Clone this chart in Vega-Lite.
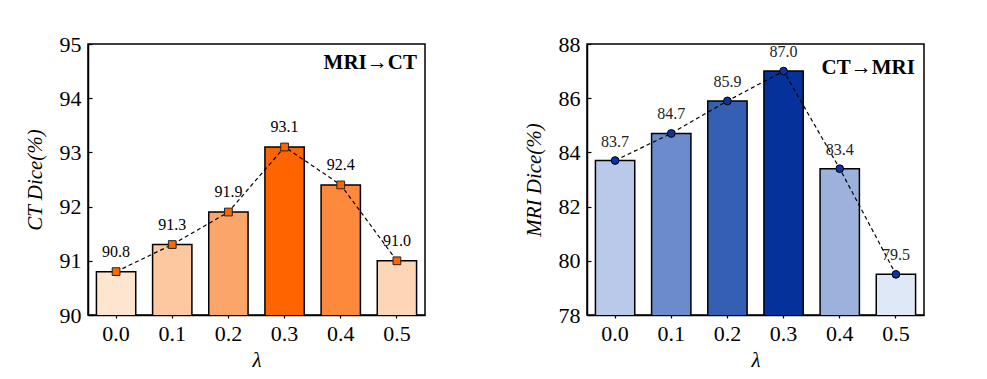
{
  "$schema": "https://vega.github.io/schema/vega-lite/v6.json",
  "background": "white",
  "padding": {"left": 23, "top": 32, "right": 5, "bottom": 5},
  "spacing": 96,
  "resolve": {"scale": {"color": "independent"}},
  "datasets": {
    "ct": [
      {"lambda": "0.0", "dice": 90.8},
      {"lambda": "0.1", "dice": 91.3},
      {"lambda": "0.2", "dice": 91.9},
      {"lambda": "0.3", "dice": 93.1},
      {"lambda": "0.4", "dice": 92.4},
      {"lambda": "0.5", "dice": 91.0}
    ],
    "mri": [
      {"lambda": "0.0", "dice": 83.7},
      {"lambda": "0.1", "dice": 84.7},
      {"lambda": "0.2", "dice": 85.9},
      {"lambda": "0.3", "dice": 87.0},
      {"lambda": "0.4", "dice": 83.4},
      {"lambda": "0.5", "dice": 79.5}
    ],
    "ctTag": [{"lambda": "0.5", "dice": 94.54, "tag": "MRI→CT"}],
    "mriTag": [{"lambda": "0.5", "dice": 86.89, "tag": "CT→MRI"}]
  },
  "config": {
    "view": {"stroke": "black", "strokeWidth": 1.5},
    "axis": {
      "labelFont": "Liberation Serif",
      "labelFontSize": 22,
      "labelColor": "black",
      "domainColor": "black",
      "domainWidth": 1.5,
      "tickColor": "black",
      "tickWidth": 1.2,
      "grid": false,
      "titleFont": "Liberation Serif",
      "titleFontStyle": "italic",
      "titleFontWeight": "normal",
      "titleFontSize": 21,
      "titleColor": "black"
    },
    "axisY": {"tickSize": -4, "labelPadding": 11, "titlePadding": 14},
    "axisX": {"tickSize": 3, "labelPadding": 5, "labelAngle": 0, "titlePadding": 5}
  },
  "hconcat": [
    {
      "width": 337,
      "height": 271,
      "data": {"name": "ct"},
      "encoding": {
        "x": {
          "field": "lambda",
          "type": "nominal",
          "sort": null,
          "scale": {"paddingInner": 0.3, "paddingOuter": 0.15},
          "axis": {"title": "λ"}
        },
        "y": {
          "field": "dice",
          "type": "quantitative",
          "scale": {"domain": [90, 95], "zero": false, "nice": false},
          "axis": {"title": "CT Dice(%)", "values": [90, 91, 92, 93, 94, 95]}
        }
      },
      "layer": [
        {
          "mark": {"type": "bar", "stroke": "black", "strokeWidth": 1.5, "clip": true},
          "encoding": {
            "color": {
              "field": "lambda",
              "type": "nominal",
              "legend": null,
              "scale": {
                "domain": ["0.0", "0.1", "0.2", "0.3", "0.4", "0.5"],
                "range": ["#fde5d0", "#fdc8a0", "#fca56a", "#fe6500", "#fd8a3c", "#fdd6b8"]
              }
            }
          }
        },
        {
          "mark": {"type": "line", "color": "black", "strokeWidth": 1.2, "strokeDash": [4, 3]},
          "encoding": {}
        },
        {
          "mark": {"type": "point", "shape": "square", "size": 60, "filled": true, "fill": "#ff6600", "stroke": "#222222", "strokeWidth": 1, "opacity": 1},
          "encoding": {}
        },
        {
          "mark": {"type": "text", "dy": -20, "font": "Liberation Serif", "fontSize": 16, "color": "black"},
          "encoding": {"text": {"field": "dice", "type": "quantitative", "format": ".1f"}}
        },
        {
          "data": {"name": "ctTag"},
          "mark": {"type": "text", "align": "right", "baseline": "alphabetic", "dx": 20, "font": "Liberation Serif", "fontSize": 21, "fontWeight": "bold", "color": "black"},
          "encoding": {"text": {"field": "tag", "type": "nominal"}}
        }
      ]
    },
    {
      "width": 337,
      "height": 271,
      "data": {"name": "mri"},
      "encoding": {
        "x": {
          "field": "lambda",
          "type": "nominal",
          "sort": null,
          "scale": {"paddingInner": 0.3, "paddingOuter": 0.15},
          "axis": {"title": "λ"}
        },
        "y": {
          "field": "dice",
          "type": "quantitative",
          "scale": {"domain": [78, 88], "zero": false, "nice": false},
          "axis": {"title": "MRI Dice(%)", "values": [78, 80, 82, 84, 86, 88]}
        }
      },
      "layer": [
        {
          "mark": {"type": "bar", "stroke": "black", "strokeWidth": 1.5, "clip": true},
          "encoding": {
            "color": {
              "field": "lambda",
              "type": "nominal",
              "legend": null,
              "scale": {
                "domain": ["0.0", "0.1", "0.2", "0.3", "0.4", "0.5"],
                "range": ["#b8c9e9", "#6b8bcc", "#345fb3", "#05329a", "#9db1dd", "#dfe8f7"]
              }
            }
          }
        },
        {
          "mark": {"type": "line", "color": "black", "strokeWidth": 1.2, "strokeDash": [4, 3]},
          "encoding": {}
        },
        {
          "mark": {"type": "point", "shape": "circle", "size": 60, "filled": true, "fill": "#0a35a0", "stroke": "black", "strokeWidth": 1, "opacity": 1},
          "encoding": {}
        },
        {
          "mark": {"type": "text", "dy": -19, "font": "Liberation Serif", "fontSize": 16, "color": "#222222"},
          "encoding": {"text": {"field": "dice", "type": "quantitative", "format": ".1f"}}
        },
        {
          "data": {"name": "mriTag"},
          "mark": {"type": "text", "align": "right", "baseline": "alphabetic", "dx": 19, "font": "Liberation Serif", "fontSize": 21, "fontWeight": "bold", "color": "black"},
          "encoding": {"text": {"field": "tag", "type": "nominal"}}
        }
      ]
    }
  ]
}
